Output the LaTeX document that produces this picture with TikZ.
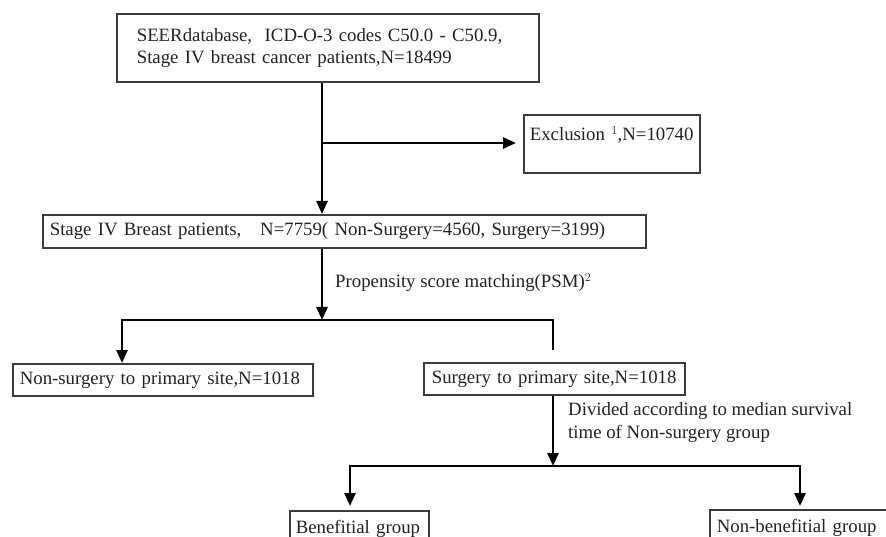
\documentclass[tikz,border=0pt]{standalone}
\usepackage{fontspec}
\setmainfont{Liberation Serif}
\usetikzlibrary{arrows.meta}
\definecolor{boxgray}{HTML}{3C3C3C}
\definecolor{textgray}{HTML}{222222}
\begin{document}
\begin{tikzpicture}[x=1pt,y=-1pt,
  box/.style={draw=boxgray, line width=1.6pt, anchor=north west, inner ysep=0pt,
    align=left, font=\fontsize{18.8}{22}\selectfont, text=textgray},
  conn/.style={line width=2.6pt, draw=black},
  arr/.style={conn, -{Triangle[length=13pt,width=11pt]}},
  lab/.style={font=\fontsize{18.8}{23}\selectfont, text=textgray, align=left, inner sep=0pt}
]
\useasboundingbox (0,0) rectangle (886,537);
\clip (0,0) rectangle (886,537);

% boxes
\node[box, minimum height=68pt, inner xsep=20pt, text width=382pt] (top) at (116,13)
  {\mbox{SEERdatabase,\ \ ICD-O-3 codes C50.0 - C50.9,}\\\mbox{Stage IV breast cancer patients,N=18499}};
\node[box, minimum height=58pt, inner xsep=6pt, text width=164pt, text height=13pt, text depth=19pt] (excl) at (523,114)
  {\mbox{Exclusion $^{1}$,N=10740}};
\node[box, minimum height=33pt, inner xsep=7pt, text width=589pt] (stage) at (42,214)
  {\mbox{Stage IV Breast patients,\ \ \ N=7759(\ Non-Surgery=4560, Surgery=3199)}};
\node[box, minimum height=32pt, inner xsep=7pt, text width=286pt] (nons) at (12,363)
  {\mbox{Non-surgery to primary site,N=1018}};
\node[box, minimum height=32pt, inner xsep=8pt, text width=245pt] (surg) at (423,362)
  {\mbox{Surgery to primary site,N=1018}};
\node[box, minimum height=36pt, inner xsep=6pt, text width=127pt] (ben) at (289,510)
  {\mbox{Benefitial group}};
\node[box, minimum height=36pt, inner xsep=7pt, text width=190pt] (nonben) at (709,509)
  {\mbox{Non-benefitial group}};

% labels
\node[lab, anchor=west] (psm) at (335,283) {Propensity score matching(PSM)$^{2}$};
\node[lab, anchor=north west] (div) at (568,402) {Divided according to median survival\\time of Non-surgery group};

% connectors
\coordinate (v1) at (322,143);
\draw[arr] (top.south -| v1) -- (v1 |- stage.north);
\draw[arr, shorten >=7pt] (v1) -- (v1 -| excl.west);

\coordinate (j1) at (322,320);
\coordinate (jl) at (122,320);
\coordinate (jr) at (553,320);
\coordinate (jrend) at (553,350);
\draw[arr] (stage.south -| j1) -- (j1);
\draw[arr] (jrend) -- (jr) -- (jl) -- (jl |- nons.north);

\coordinate (j2) at (553,466);
\coordinate (bl) at (350,466);
\coordinate (br) at (800,466);
\draw[arr] (surg.south -| j2) -- (j2);
\draw[arr, shorten >=4pt] (j2) -- (bl) -- (bl |- ben.north);
\draw[arr, shorten >=3pt] (j2) -- (br) -- (br |- nonben.north);
\end{tikzpicture}
\end{document}
